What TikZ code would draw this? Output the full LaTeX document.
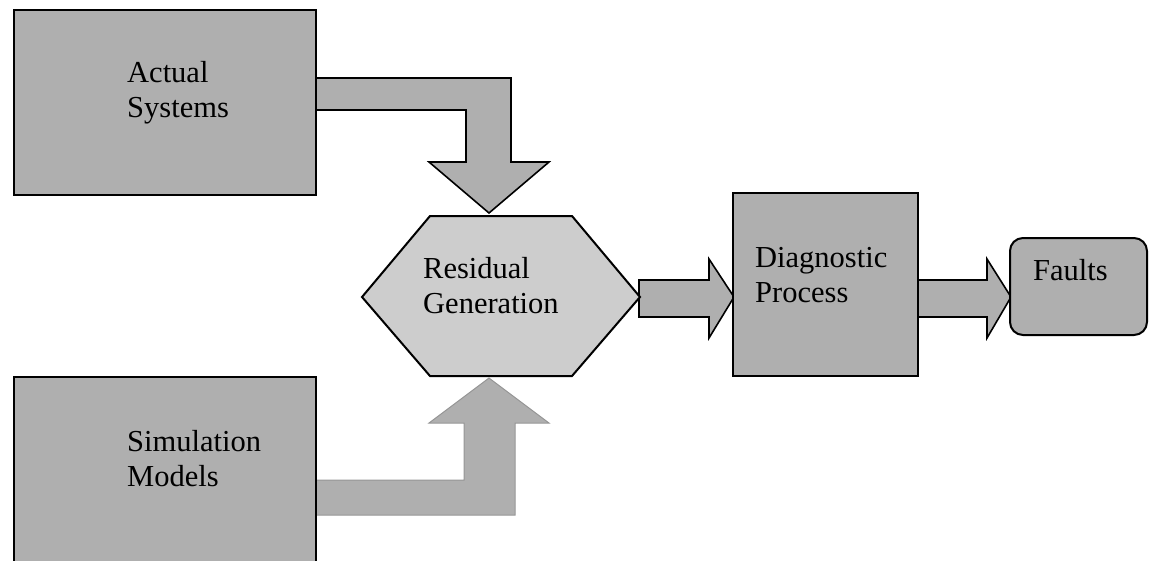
\documentclass[tikz,border=0pt]{standalone}
\usepackage{fontspec}
\setmainfont{Liberation Serif}
\usetikzlibrary{calc}
\definecolor{boxgray}{RGB}{175,175,175}
\definecolor{hexgray}{RGB}{205,205,205}
\definecolor{edgegray}{RGB}{150,150,150}
\begin{document}
\begin{tikzpicture}[x=1pt,y=-1pt,
  block/.style={draw=black, line width=2pt, fill=boxgray, inner sep=0pt},
  lbl/.style={font=\fontsize{30.5}{35}\selectfont, align=left, inner sep=0pt, anchor=base west},
  barrow/.style={draw=black, line width=1.6pt, fill=boxgray, line join=miter},
  parrow/.style={draw=edgegray, line width=1pt, fill=boxgray, line join=miter},
]
\useasboundingbox (0,0) rectangle (1149,560);

% block arrows (drawn first, boxes sit on top of their tails)
\draw[barrow] (316,78) -- (511,78) -- (511,162) -- (549,162) -- (489,213)
  -- (429,162) -- (466,162) -- (466,110) -- (316,110) -- cycle;
\draw[parrow] (316,480) -- (464,480) -- (464,423) -- (429,423) -- (489,378)
  -- (549,423) -- (515,423) -- (515,515) -- (316,515) -- cycle;
\draw[barrow] (639,280) -- (709,280) -- (709,259) -- (734,297) -- (709,338)
  -- (709,317) -- (639,317) -- cycle;
\draw[barrow] (918,280) -- (987,280) -- (987,259) -- (1011,297) -- (987,338)
  -- (987,317) -- (918,317) -- cycle;

% boxes
\node[block, minimum width=302pt, minimum height=185pt] (act) at (165,102.5) {};
\node[block, minimum width=302pt, minimum height=193pt] (sim) at (165,473.5) {};
\node[block, minimum width=185pt, minimum height=183pt] (diag) at (825.5,284.5) {};
\node[block, rounded corners=13pt, minimum width=137pt, minimum height=97pt] (flt) at (1078.5,286.5) {};

% residual generation hexagon
\coordinate (hexW) at (362,297);
\coordinate (hexE) at (640,297);
\draw[line width=2pt, fill=hexgray, line join=miter]
  (hexW) -- (430,216) -- (572,216) -- (hexE) -- (572,376) -- (430,376) -- cycle;

% labels (anchored on the baseline of their last line)
\node[lbl] (actT) at (127,117) {Actual\\Systems};
\node[lbl] (simT) at (127,486) {Simulation\\Models};
\node[lbl] (resT) at (423,313) {Residual\\Generation};
\node[lbl] (diagT) at (755,302) {Diagnostic\\Process};
\node[lbl] (fltT) at (1033,280) {Faults};
\end{tikzpicture}
\end{document}
